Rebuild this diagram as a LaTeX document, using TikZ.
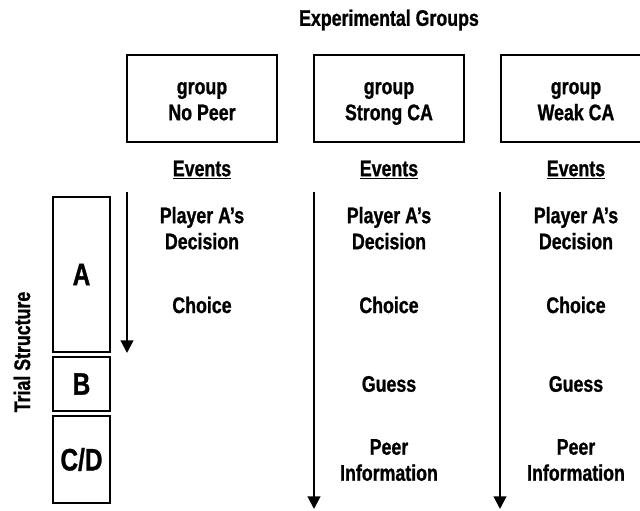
\documentclass[tikz,border=0pt]{standalone}
\usepackage{fontspec}
\setmainfont{Liberation Sans}[FakeStretch=0.79,BoldFeatures={FakeBold=1}]
\usetikzlibrary{arrows.meta,positioning}

\begin{document}
\begin{tikzpicture}[x=0.025cm,y=-0.025cm,
  lbl/.style={font=\bfseries\fontsize{16}{18.5}\selectfont,align=center},
  grpbox/.style={draw,line width=1.4pt,minimum width=3.75cm,minimum height=2.175cm},
  phasebox/.style={draw,line width=1.4pt,minimum width=1.425cm,inner sep=0pt,
    font=\bfseries\fontsize{22}{26}\selectfont},
  timeline/.style={line width=1.5pt,-{Triangle[length=9pt,width=9pt]}}]

  % ---- page frame ----------------------------------------------
  \useasboundingbox (0,0) rectangle (640,511);
  \clip (0,0) rectangle (640,511);

  % ---- header --------------------------------------------------
  \node[lbl] (title) at (389,20) {Experimental Groups};

  \node[grpbox] (gNoPeer) at (202,98.5) {};
  \node[grpbox] (gStrong) at (389,98.5) {};
  \node[grpbox] (gWeak)   at (576,98.5) {};
  \node[lbl] (nmNoPeer) at (202,102) {group\strut\\No Peer\strut};
  \node[lbl] (nmStrong) at (389,102) {group\strut\\Strong CA\strut};
  \node[lbl] (nmWeak)   at (576,102) {group\strut\\Weak CA\strut};

  \node[lbl] (evNoPeer) at (202,170) {\underline{Events}};
  \node[lbl] (evStrong) at (389,170) {\underline{Events}};
  \node[lbl] (evWeak)   at (576,170) {\underline{Events}};

  % ---- trial structure (left) ----------------------------------
  \node[lbl,rotate=90] (trial) at (22,352) {Trial Structure};
  \node[phasebox,minimum height=3.875cm] (phA)  at (81.5,274.5) {A};
  \node[phasebox,minimum height=1.35cm]  (phB)  at (81.5,384)   {B};
  \node[phasebox,minimum height=2.175cm] (phCD) at (81.5,459.5) {C/D};

  % ---- time lines ----------------------------------------------
  \coordinate (tNoPeerTop) at (127,192);
  \coordinate (tNoPeerEnd) at (127,353);
  \coordinate (tStrongTop) at (314,192);
  \coordinate (tStrongEnd) at (314,509);
  \coordinate (tWeakTop)   at (500,192);
  \coordinate (tWeakEnd)   at (500,509);
  \draw[timeline] (tNoPeerTop) -- (tNoPeerEnd);
  \draw[timeline] (tStrongTop) -- (tStrongEnd);
  \draw[timeline] (tWeakTop)   -- (tWeakEnd);

  % ---- events: no peer -----------------------------------------
  \node[lbl] (decNoPeer) at (202,231) {Player A’s\strut\\Decision\strut};
  \node[lbl] (chNoPeer)  at (202,305) {Choice};

  % ---- events: strong CA ---------------------------------------
  \node[lbl] (decStrong)  at (389,231)   {Player A’s\strut\\Decision\strut};
  \node[lbl] (chStrong)   at (389,305)   {Choice};
  \node[lbl] (gsStrong)   at (389,384)   {Guess};
  \node[lbl] (infStrong)  at (389,462.5) {Peer\strut\\Information\strut};

  % ---- events: weak CA -----------------------------------------
  \node[lbl] (decWeak)  at (576,231)   {Player A’s\strut\\Decision\strut};
  \node[lbl] (chWeak)   at (576,305)   {Choice};
  \node[lbl] (gsWeak)   at (576,384)   {Guess};
  \node[lbl] (infWeak)  at (576,462.5) {Peer\strut\\Information\strut};

\end{tikzpicture}
\end{document}
